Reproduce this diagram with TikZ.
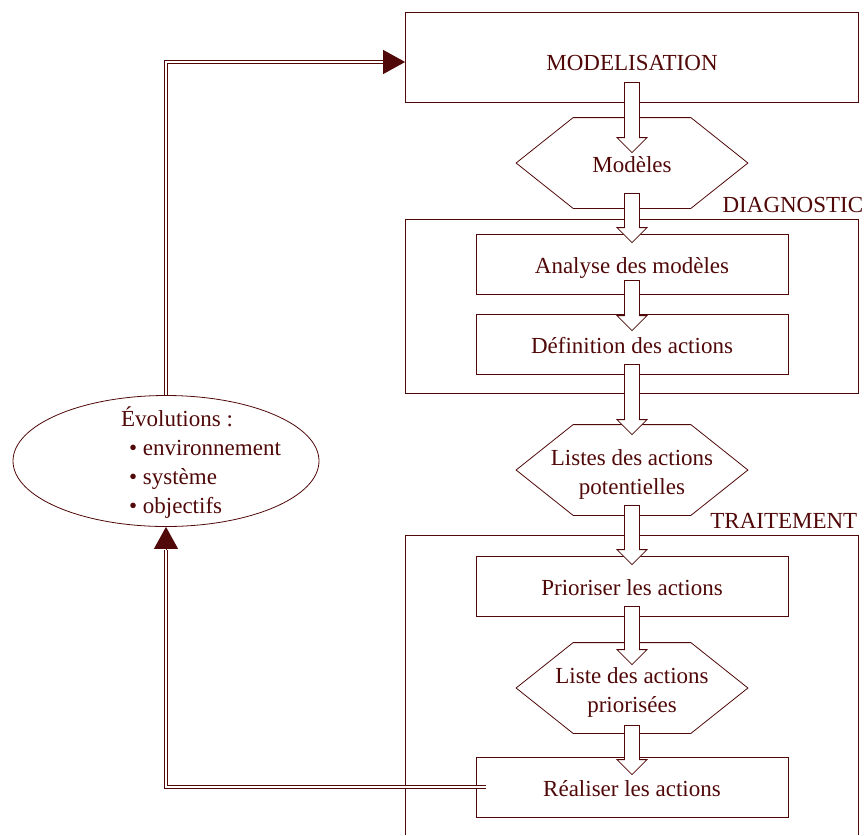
\documentclass[tikz,border=0pt]{standalone}
\usepackage{fontspec}
\setmainfont{Liberation Serif}
\usepackage{tikz}
\usetikzlibrary{shapes.geometric,arrows.meta,calc}
\definecolor{bordeaux}{RGB}{80,8,8}

\begin{document}
\begin{tikzpicture}[x = 1pt, y = -1pt, line width = 0.8pt, bordeaux,
        every node/.style = {text = bordeaux, font = \fontsize{23}{29}\selectfont},
        etape/.style = {draw, minimum width = 312pt, minimum height = 60pt, inner sep = 0pt,
            text height = 21pt, text depth = 3pt},
        liste/.style = {minimum width = 231pt, minimum height = 90pt, align = center, inner sep = 0pt,
            text height = 20pt},
        deuxlignes/.style = {text height = 53pt, text depth = 5pt},
        retour/.style = {double, double distance = 1.6pt, line width = 0.9pt},
        tete/.style = {-{Triangle[length = 22pt, width = 24pt]}, line width = 0.9pt}]
            \useasboundingbox (0,0) rectangle (866,835);

            \node [draw, minimum width = 453pt, minimum height = 90pt, inner sep = 0pt, text height = 28pt]
            (model) at (632,57) {MODELISATION};
            \node [draw, minimum width = 453pt, minimum height = 174pt] (diag) at (632,306) {};
            \node [anchor = base east] (diaglabel) at ([xshift = 8pt, yshift = 6pt]diag.north east) {DIAGNOSTIC};
            \draw (405,835) |- (858,535) -- (858,835);
            \coordinate (trait) at (858,535);
            \node [anchor = base east] (traitlabel) at ([xshift = 3pt, yshift = 7pt]trait) {TRAITEMENT};

            \node [etape] (analyse) at (632,264) {Analyse des modèles};
            \node [etape] (definition) at (632,344) {Définition des actions};
            \node [etape] (prioriser) at (632,586) {Prioriser les actions};
            \node [etape] (realiser) at (632,787) {Réaliser les actions};

            \node [liste] (modeles) at (632,163) {Modèles};
            \node [liste, deuxlignes] (listes) at (632,470) {Listes des actions\\potentielles};
            \node [liste, deuxlignes] (priorisees) at (632,688) {Liste des actions\\priorisées};
            \foreach \n in {modeles, listes, priorisees}
                \draw (\n.west) -- ([xshift = 57pt]\n.north west) -- ([xshift = -57pt]\n.north east)
                -- (\n.east) -- ([xshift = -57pt]\n.south east) -- ([xshift = 57pt]\n.south west) -- cycle;

            \foreach \a/\b/\da/\db in {model/modeles/20/35, modeles/analyse/15/9,
                analyse/definition/14/17, definition/listes/10/10, listes/prioriser/10/9,
                prioriser/priorisees/10/22, priorisees/realiser/8/18} {
                \coordinate (s) at ($(\a.south)+(0,-\da)$);
                \coordinate (t) at ($(\b.north)+(0,\db)$);
                \draw [fill = white] ($(t|-s)+(-7.5,0)$) -- ($(t)+(-7.5,-15)$) -- ($(t)+(-15,-15)$)
                -- (t) -- ($(t)+(15,-15)$) -- ($(t)+(7.5,-15)$) -- ($(t|-s)+(7.5,0)$) -- cycle;
            }

            \node [draw, ellipse, minimum width = 306pt, minimum height = 131pt, inner sep = 0pt]
            (evol) at (166,461) {};
            \node [align = left] (evoltext) at (201,463) {Évolutions :\\
                \hspace*{8pt}• environnement\\ \hspace*{8pt}• système\\ \hspace*{8pt}• objectifs};

            \draw [retour] ([xshift = 10pt]realiser.west) -| ([yshift = -23pt]evol.south);
            \draw [tete] ([yshift = -23pt]evol.south) -- (evol.south);
            \draw [retour] (evol.north) |- ([xshift = -22pt, yshift = -5pt]model.west);
            \draw [tete] ([xshift = -22pt, yshift = -5pt]model.west) -- ([yshift = -5pt]model.west);
        \end{tikzpicture}
\end{document}
